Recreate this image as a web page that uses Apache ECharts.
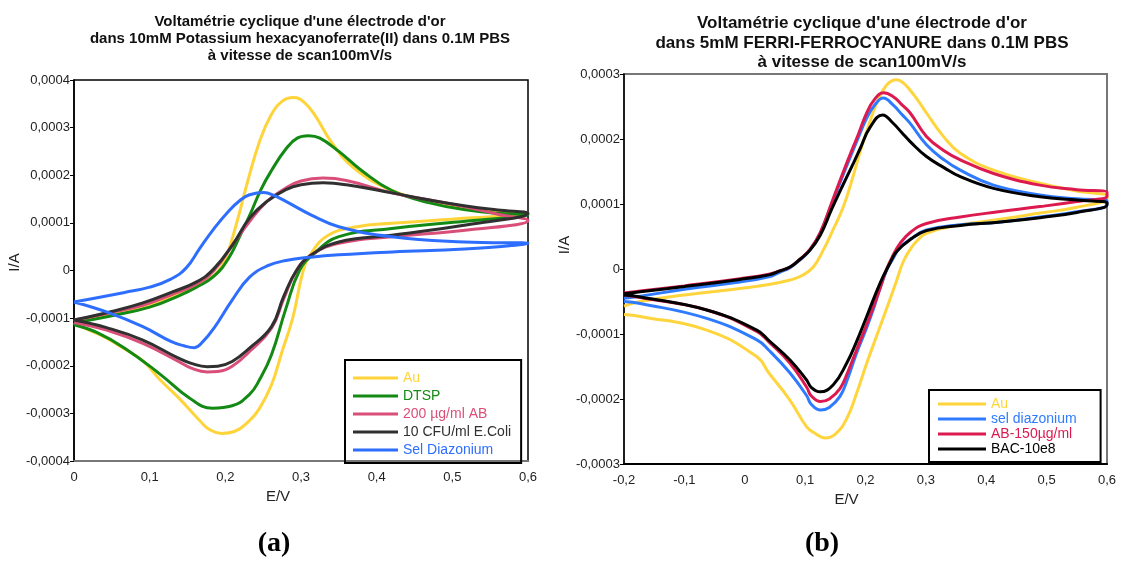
<!DOCTYPE html>
<html>
<head>
<meta charset="utf-8">
<script src="https://cdn.jsdelivr.net/npm/echarts@6/dist/echarts.min.js"></script>
<style>
  html, body { margin: 0; padding: 0; background: #fff; }
  #chart { width: 1121px; height: 568px; }
</style>
</head>
<body>
<div id="chart"></div>
<script>
// current values are in units of 1e-4 A, potentials in V
// (a) 10mM hexacyanoferrate(II)
const aAu = [[0,-1.07],[0.043,-0.93],[0.091,-0.76],[0.13,-0.55],[0.162,-0.31],[0.185,-0.1],[0.2,0.25],[0.215,1.0],[0.23,1.9],[0.245,2.7],[0.26,3.25],[0.275,3.55],[0.29,3.63],[0.305,3.52],[0.32,3.22],[0.34,2.7],[0.37,2.15],[0.42,1.68],[0.47,1.45],[0.52,1.31],[0.56,1.24],[0.6,1.2],
  [0.52,1.1],[0.42,0.99],[0.374,0.92],[0.336,0.74],[0.313,0.35],[0.303,0.0],[0.289,-1.0],[0.275,-1.7],[0.261,-2.4],[0.245,-2.9],[0.232,-3.15],[0.212,-3.38],[0.195,-3.42],[0.18,-3.35],[0.166,-3.15],[0.138,-2.67],[0.114,-2.3],[0.091,-1.9],[0.067,-1.65],[0.043,-1.42],[0.02,-1.25],[0,-1.1]];
const aDTSP = [[0,-1.1],[0.05,-0.95],[0.1,-0.77],[0.14,-0.52],[0.162,-0.35],[0.185,-0.12],[0.204,0.25],[0.22,0.75],[0.232,1.15],[0.247,1.7],[0.261,2.1],[0.28,2.55],[0.295,2.78],[0.31,2.83],[0.325,2.78],[0.35,2.5],[0.38,2.1],[0.42,1.68],[0.47,1.42],[0.52,1.27],[0.56,1.2],[0.6,1.17],
  [0.52,1.04],[0.42,0.88],[0.35,0.71],[0.317,0.35],[0.298,0.0],[0.28,-0.8],[0.261,-1.77],[0.245,-2.3],[0.232,-2.6],[0.209,-2.84],[0.183,-2.89],[0.152,-2.67],[0.114,-2.18],[0.067,-1.63],[0.03,-1.3],[0,-1.14]];
const aAB = [[0,-1.04],[0.05,-0.88],[0.091,-0.73],[0.13,-0.5],[0.162,-0.28],[0.185,0.0],[0.21,0.55],[0.232,1.03],[0.255,1.45],[0.28,1.73],[0.3,1.88],[0.329,1.94],[0.36,1.89],[0.42,1.63],[0.47,1.48],[0.52,1.33],[0.56,1.18],[0.6,1.05],
  [0.52,0.85],[0.42,0.71],[0.35,0.57],[0.313,0.32],[0.294,0.0],[0.277,-0.6],[0.261,-1.21],[0.232,-1.7],[0.209,-2.01],[0.19,-2.12],[0.176,-2.13],[0.155,-2.05],[0.138,-1.91],[0.091,-1.53],[0.043,-1.25],[0,-1.09]];
const aEcoli = [[0,-1.04],[0.05,-0.86],[0.091,-0.68],[0.13,-0.45],[0.162,-0.24],[0.185,0.04],[0.21,0.55],[0.232,1.1],[0.255,1.45],[0.28,1.7],[0.3,1.8],[0.329,1.84],[0.36,1.8],[0.42,1.63],[0.47,1.48],[0.52,1.35],[0.56,1.27],[0.6,1.2],
  [0.52,0.96],[0.42,0.74],[0.35,0.6],[0.313,0.32],[0.294,0.0],[0.277,-0.55],[0.261,-1.18],[0.232,-1.63],[0.209,-1.91],[0.19,-2.01],[0.176,-2.02],[0.155,-1.95],[0.138,-1.84],[0.091,-1.46],[0.043,-1.2],[0,-1.04]];
const aSel = [[0,-0.66],[0.067,-0.46],[0.1,-0.35],[0.128,-0.18],[0.148,0.05],[0.166,0.46],[0.185,0.88],[0.204,1.24],[0.22,1.48],[0.232,1.59],[0.251,1.64],[0.265,1.57],[0.28,1.45],[0.313,1.17],[0.35,0.92],[0.42,0.71],[0.516,0.6],[0.6,0.57],
  [0.516,0.45],[0.421,0.39],[0.35,0.33],[0.313,0.28],[0.28,0.21],[0.256,0.1],[0.232,-0.14],[0.209,-0.62],[0.185,-1.21],[0.17,-1.5],[0.159,-1.62],[0.145,-1.58],[0.128,-1.49],[0.091,-1.18],[0.043,-0.87],[0,-0.66]];

// (b) 5mM ferri-ferrocyanure
const bAu = [[-0.2,-0.57],[-0.173,-0.5],[-0.1,-0.4],[-0.008,-0.3],[0.04,-0.24],[0.075,-0.17],[0.095,-0.1],[0.1135,0.03],[0.13,0.29],[0.145,0.58],[0.163,0.95],[0.177,1.35],[0.191,1.8],[0.205,2.2],[0.2185,2.55],[0.235,2.83],[0.2516,2.91],[0.263,2.86],[0.274,2.75],[0.288,2.58],[0.301,2.4],[0.329,2.04],[0.357,1.78],[0.412,1.52],[0.489,1.32],[0.55,1.2],[0.6,1.12],
  [0.6,1.09],[0.55,0.95],[0.489,0.86],[0.42,0.76],[0.357,0.68],[0.301,0.55],[0.285,0.43],[0.274,0.3],[0.262,0.1],[0.25,-0.22],[0.226,-0.84],[0.202,-1.45],[0.185,-1.92],[0.169,-2.3],[0.15,-2.54],[0.133,-2.6],[0.115,-2.52],[0.1026,-2.43],[0.075,-2.02],[0.04,-1.6],[0.02,-1.35],[-0.063,-0.94],[-0.173,-0.73],[-0.2,-0.7]];
const bSel = [[-0.2,-0.45],[-0.173,-0.42],[-0.1,-0.31],[-0.008,-0.2],[0.04,-0.12],[0.058,-0.05],[0.075,0.02],[0.0915,0.14],[0.108,0.29],[0.125,0.55],[0.144,1.0],[0.166,1.52],[0.188,2.02],[0.202,2.32],[0.215,2.52],[0.2295,2.63],[0.246,2.52],[0.26,2.38],[0.274,2.24],[0.301,1.91],[0.33,1.68],[0.357,1.52],[0.412,1.29],[0.489,1.14],[0.55,1.08],[0.6,1.05],
  [0.6,0.99],[0.55,0.88],[0.489,0.8],[0.42,0.72],[0.357,0.68],[0.301,0.6],[0.275,0.46],[0.257,0.33],[0.245,0.15],[0.236,0.0],[0.224,-0.3],[0.213,-0.62],[0.2,-0.95],[0.185,-1.3],[0.17,-1.7],[0.1577,-1.96],[0.14,-2.13],[0.1255,-2.17],[0.11,-2.08],[0.1026,-1.95],[0.075,-1.6],[0.04,-1.25],[0.02,-1.09],[-0.063,-0.76],[-0.173,-0.53],[-0.2,-0.5]];
const bAB = [[-0.2,-0.37],[-0.173,-0.34],[-0.1,-0.26],[-0.008,-0.15],[0.04,-0.08],[0.058,-0.03],[0.075,0.03],[0.0915,0.15],[0.108,0.3],[0.125,0.56],[0.144,1.02],[0.166,1.56],[0.188,2.07],[0.202,2.4],[0.215,2.61],[0.23,2.71],[0.246,2.65],[0.26,2.53],[0.274,2.4],[0.301,2.04],[0.33,1.82],[0.357,1.68],[0.412,1.47],[0.489,1.29],[0.55,1.22],[0.6,1.18],
  [0.6,1.12],[0.55,1.04],[0.489,0.96],[0.42,0.88],[0.357,0.8],[0.301,0.7],[0.275,0.57],[0.257,0.39],[0.245,0.2],[0.235,0.0],[0.224,-0.3],[0.213,-0.58],[0.2,-0.9],[0.185,-1.25],[0.17,-1.6],[0.1577,-1.84],[0.14,-2.0],[0.1255,-2.04],[0.11,-1.95],[0.1026,-1.82],[0.075,-1.45],[0.04,-1.12],[0.02,-0.96],[-0.063,-0.63],[-0.173,-0.44],[-0.2,-0.4]];
const bBac = [[-0.2,-0.38],[-0.173,-0.35],[-0.1,-0.27],[-0.008,-0.16],[0.04,-0.09],[0.058,-0.03],[0.075,0.03],[0.0915,0.15],[0.108,0.29],[0.125,0.52],[0.144,0.92],[0.163,1.3],[0.18,1.63],[0.191,1.85],[0.207,2.17],[0.2285,2.37],[0.245,2.25],[0.26,2.1],[0.274,1.96],[0.301,1.73],[0.33,1.56],[0.357,1.42],[0.412,1.24],[0.489,1.11],[0.55,1.06],[0.6,1.02],
  [0.6,0.99],[0.55,0.87],[0.489,0.79],[0.42,0.72],[0.357,0.67],[0.301,0.59],[0.275,0.46],[0.2516,0.27],[0.24,0.08],[0.224,-0.22],[0.202,-0.73],[0.185,-1.12],[0.1688,-1.45],[0.1467,-1.78],[0.1246,-1.89],[0.11,-1.82],[0.1026,-1.71],[0.075,-1.4],[0.04,-1.1],[0.02,-0.94],[-0.063,-0.63],[-0.173,-0.43],[-0.2,-0.4]];

const namesA = ['Au', 'DTSP', '200 µg/ml AB', '10 CFU/ml E.Coli', 'Sel Diazonium'];
const colorsA = ['#FFD43B', '#138A13', '#DA4F7A', '#303030', '#2D6EFF'];
const curvesA = [aAu, aDTSP, aAB, aEcoli, aSel];

const namesB = ['Au', 'sel diazonium', 'AB-150µg/ml', 'BAC-10e8'];
const colorsB = ['#FFD53E', '#2F7BFF', '#DC1A50', '#000000'];
const curvesB = [bAu, bSel, bAB, bBac];

const titleA = "Voltamétrie cyclique d'une électrode d'or\ndans 10mM Potassium hexacyanoferrate(II) dans 0.1M PBS\nà vitesse de scan100mV/s";
const titleB = "Voltamétrie cyclique d'une électrode d'or\ndans 5mM FERRI-FERROCYANURE dans 0.1M PBS\nà vitesse de scan100mV/s";

const chart = echarts.init(document.getElementById('chart'));

function fmt(v, d) {
  if (Math.abs(v) < 1e-12) return '0';
  return v.toFixed(d).replace('.', ',');
}

const font = 'Liberation Sans, Arial, sans-serif';

function xAxisCfg(gridIndex, min, lineColor, namePad) {
  return {
    type: 'value', gridIndex: gridIndex, min: min, max: 0.6, interval: 0.1,
    name: 'E/V', nameLocation: 'middle', nameGap: 25,
    nameTextStyle: { fontSize: 15, color: '#222', fontFamily: font, padding: [0, namePad, 0, 0] },
    axisLine: { show: true, onZero: false, lineStyle: { color: lineColor, width: 2 } },
    axisTick: { show: false },
    axisLabel: { fontSize: 13, color: '#222', fontFamily: font, margin: 10, formatter: v => fmt(v, 1) },
    splitLine: { show: false }
  };
}

function yAxisCfg(gridIndex, lim, nameGap, namePad) {
  return {
    type: 'value', gridIndex: gridIndex, min: -lim, max: lim, interval: 1e-4,
    name: 'I/A', nameLocation: 'middle', nameGap: nameGap,
    nameTextStyle: { fontSize: 15, color: '#222', fontFamily: font, padding: [0, 0, 0, namePad] },
    axisLine: { show: true, onZero: false, lineStyle: { color: '#000', width: 1.5 } },
    axisTick: { show: true, length: 4, lineStyle: { color: '#000' } },
    axisLabel: { fontSize: 13, color: '#222', fontFamily: font, margin: 4, formatter: v => fmt(v, 4) },
    splitLine: { show: false }
  };
}

function legendCfg(names, colors, left, top, gap, fs, lineW, pad) {
  return {
    orient: 'vertical', left: left, top: top,
    borderColor: '#000', borderWidth: 2, borderRadius: 0,
    padding: pad,
    itemWidth: lineW, itemHeight: 3, itemGap: gap,
    icon: 'rect', selectedMode: false,
    textStyle: { fontSize: fs, fontFamily: font },
    data: names.map((n, i) => ({ name: n, textStyle: { color: colors[i] } }))
  };
}

const series = [];
curvesA.forEach((c, i) => {
  series.push({
    name: namesA[i], type: 'line', xAxisIndex: 0, yAxisIndex: 0,
    data: c.map(p => [p[0], p[1] * 1e-4]),
    smooth: 0.45, showSymbol: false, color: colorsA[i],
    lineStyle: { width: 3, color: colorsA[i] }, animation: false
  });
});
curvesB.forEach((c, i) => {
  series.push({
    name: namesB[i], type: 'line', xAxisIndex: 1, yAxisIndex: 1,
    data: c.map(p => [p[0], p[1] * 1e-4]),
    smooth: 0.45, showSymbol: false, color: colorsB[i],
    lineStyle: { width: 3, color: colorsB[i] }, animation: false
  });
});

const option = {
  backgroundColor: '#fff',
  animation: false,
  grid: [
    { left: 74, top: 80, width: 454, height: 381, show: true, borderColor: '#000', borderWidth: 1.5 },
    { left: 624, top: 74, width: 483, height: 390, show: true, borderColor: '#777', borderWidth: 2 }
  ],
  xAxis: [xAxisCfg(0, 0, '#777', 46), xAxisCfg(1, -0.2, '#000', 38)],
  yAxis: [yAxisCfg(0, 4e-4, 45, 16), yAxisCfg(1, 3e-4, 51, 48)],
  legend: [
    legendCfg(namesA, colorsA, 345, 360, 4, 14, 45, [11, 10, 6, 8]),
    legendCfg(namesB, colorsB, 929, 390, 1, 14, 48, [7, 24, 6, 9])
  ],
  graphic: [
    { type: 'text', x: 300, y: 13, style: { text: titleA, textAlign: 'center', fill: '#111', font: 'bold 15px ' + font, lineHeight: 17 } },
    { type: 'text', x: 862, y: 14, style: { text: titleB, textAlign: 'center', fill: '#111', font: 'bold 17px ' + font, lineHeight: 19.5 } },
    { type: 'text', x: 274, y: 530, style: { text: '(a)', textAlign: 'center', fill: '#000', font: 'bold 28px Liberation Serif, Times New Roman, serif' } },
    { type: 'text', x: 822, y: 530, style: { text: '(b)', textAlign: 'center', fill: '#000', font: 'bold 28px Liberation Serif, Times New Roman, serif' } }
  ],
  series: series
};

chart.setOption(option);
</script>
</body>
</html>
